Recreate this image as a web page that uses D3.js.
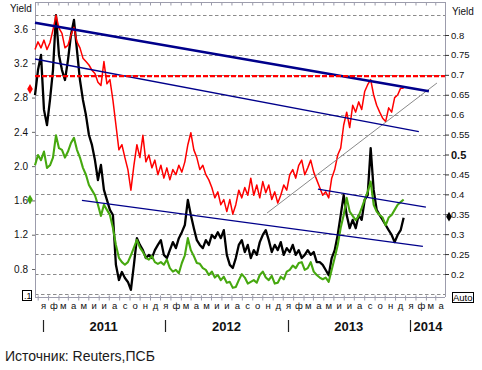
<!DOCTYPE html>
<html><head><meta charset="utf-8">
<script src="https://cdn.jsdelivr.net/npm/d3@7"></script>
<style>body{margin:0;background:#fff}svg{display:block}</style>
</head><body>
<svg id="c" width="482" height="370"></svg>
<script>
// ---- data ----
const seriesStart = new Date(2010, 11, 8);
const stepDays = 8.94;
const redLeft = [3.36,3.45,3.38,3.47,3.36,3.44,3.59,3.76,3.61,3.55,3.38,3.41,3.53,3.62,3.45,3.38,3.26,3.22,3.18,3.12,3.08,2.98,2.94,3.22,2.96,3.01,2.77,2.48,2.19,2.25,2.10,1.96,1.72,2.01,2.25,2.10,2.36,2.05,2.13,1.98,2.07,1.90,2.01,1.86,1.98,1.84,1.96,1.90,2.01,1.93,2.05,2.25,2.39,2.19,2.10,1.96,2.01,1.90,1.84,1.75,1.63,1.70,1.55,1.61,1.47,1.61,1.44,1.55,1.72,1.63,1.75,1.66,1.86,1.66,1.78,1.63,1.82,1.69,1.78,1.61,1.70,1.57,1.66,1.78,1.72,1.90,1.96,1.86,2.01,2.07,1.90,1.98,2.07,1.93,1.84,1.75,1.66,1.70,1.63,1.86,1.96,2.13,2.21,2.48,2.63,2.45,2.71,2.63,2.75,2.66,2.87,2.95,3.01,2.83,2.71,2.63,2.56,2.52,2.68,2.63,2.80,2.83,2.91,2.91];
const blackRight = [0.649,0.712,0.750,0.612,0.574,0.637,0.712,0.850,0.750,0.712,0.687,0.737,0.800,0.838,0.762,0.687,0.637,0.599,0.549,0.524,0.486,0.436,0.474,0.411,0.386,0.361,0.348,0.223,0.185,0.205,0.190,0.180,0.160,0.223,0.290,0.273,0.260,0.240,0.248,0.240,0.260,0.273,0.285,0.248,0.240,0.260,0.280,0.265,0.290,0.305,0.323,0.386,0.348,0.315,0.285,0.273,0.265,0.285,0.273,0.298,0.290,0.305,0.290,0.310,0.248,0.223,0.215,0.240,0.273,0.285,0.255,0.273,0.240,0.260,0.248,0.280,0.298,0.310,0.285,0.255,0.273,0.260,0.280,0.248,0.265,0.255,0.273,0.248,0.260,0.240,0.248,0.260,0.248,0.255,0.230,0.230,0.223,0.210,0.197,0.240,0.260,0.298,0.348,0.398,0.348,0.315,0.336,0.315,0.348,0.336,0.386,0.398,0.516,0.411,0.361,0.348,0.336,0.323,0.310,0.298,0.280,0.298,0.310,0.341];
const greenLeft = [2.01,2.13,2.07,2.17,1.98,2.01,2.10,2.36,2.21,2.19,2.10,2.17,2.27,2.33,2.19,2.10,1.98,1.90,1.78,1.72,1.66,1.55,1.42,1.55,1.49,1.43,1.28,1.08,0.93,0.88,0.85,0.88,0.96,1.05,1.14,1.05,1.00,0.93,0.91,0.95,0.88,0.86,0.88,0.85,0.91,0.81,0.77,0.79,0.75,0.87,0.96,1.16,1.02,0.95,0.87,0.86,0.81,0.79,0.73,0.77,0.70,0.73,0.67,0.71,0.64,0.65,0.58,0.59,0.67,0.74,0.70,0.63,0.65,0.67,0.64,0.73,0.77,0.70,0.67,0.72,0.63,0.64,0.71,0.68,0.77,0.79,0.84,0.81,0.87,0.88,0.79,0.81,0.88,0.77,0.73,0.70,0.68,0.70,0.65,0.79,0.93,1.08,1.28,1.43,1.63,1.47,1.42,1.37,1.42,1.51,1.61,1.70,1.82,1.55,1.47,1.43,1.40,1.31,1.40,1.43,1.49,1.55,1.58,1.61];
const leftTicks = [3.6,3.2,2.8,2.4,2.0,1.6,1.2,0.8];
const rightTicks = [0.8,0.75,0.7,0.65,0.6,0.55,0.5,0.45,0.4,0.35,0.3,0.25,0.2];
const gridValues = [0.85,0.8,0.75,0.7,0.65,0.6,0.55,0.5,0.45,0.4,0.35,0.3,0.25,0.2,0.15];
const monthLetters = ["я","ф","м","а","м","и","и","а","с","о","н","д"];
const yearLabels = [2011,2012,2013,2014];
const redLevel = 3.05;
const lastRed = 2.90, lastGreen = 1.61, lastBlack = 0.344;
// trend lines [startDate, startValue, endDate, endValue] on left axis
const trendThick = [[new Date(2010,11,8),3.674,new Date(2014,1,25),2.873]];
const trendThin = [
  [new Date(2010,11,8),3.250,new Date(2014,0,26),2.404],
  [new Date(2011,3,27),1.601,new Date(2014,1,7),1.065],
  [new Date(2013,2,31),1.733,new Date(2014,1,16),1.523]
];
const trendGray = [[new Date(2012,9,30),1.453,new Date(2014,2,21),2.970]];

// ---- scales ----
const svg = d3.select("#c");
const L = 35, R = 445, T = 2, B = 297;
const x = d3.scaleTime().domain([new Date(2010,11,8), new Date(2014,3,14)]).range([L, R]);
const yL = d3.scaleLinear().domain([0.8, 3.6]).range([269, 29]);
const yR = d3.scaleLinear().domain([0.2, 0.8]).range([274, 35]);
const dateAt = i => new Date(seriesStart.getTime() + i * stepDays * 864e5);
const font = "'Liberation Sans', Arial, sans-serif";

// grid
svg.append("g").selectAll("line").data(gridValues).join("line")
  .attr("x1", L).attr("x2", R).attr("y1", d => Math.round(yR(d)) + 0.5).attr("y2", d => Math.round(yR(d)) + 0.5)
  .attr("stroke", "#8c8c8c").attr("stroke-dasharray", "3.5,2.5");

// frame
const frame = svg.append("g").attr("stroke", "#9c9cac").attr("fill", "none");
frame.append("line").attr("x1", L + 0.5).attr("x2", L + 0.5).attr("y1", T).attr("y2", B);
frame.append("line").attr("x1", R + 0.5).attr("x2", R + 0.5).attr("y1", T).attr("y2", B);
frame.append("line").attr("x1", L).attr("x2", R).attr("y1", T + 0.5).attr("y2", T + 0.5);
frame.append("line").attr("x1", L).attr("x2", R).attr("y1", B + 0.5).attr("y2", B + 0.5);

// month ticks (mid-month) top & bottom
const tickDates = d3.timeMonth.range(new Date(2010,11,1), new Date(2014,4,1)).map(d => d3.timeDay.offset(d, 15)).filter(d => x(d) > L + 1 && x(d) < R - 1);
const topAxis = svg.append("g").attr("transform", `translate(0,${T + 0.5})`)
  .call(d3.axisBottom(x).tickValues(tickDates).tickSize(3).tickFormat(""));
topAxis.select(".domain").remove();
topAxis.selectAll("line").attr("stroke", "#9c9cac");
const botAxis = svg.append("g").attr("transform", `translate(0,${B - 1.5})`)
  .call(d3.axisBottom(x).tickValues(tickDates).tickSize(5).tickFormat(""));
botAxis.select(".domain").remove();
botAxis.selectAll("line").attr("stroke", "#9c9cac");

// month letters
const monthStarts = d3.timeMonth.range(new Date(2011,0,1), new Date(2014,4,1));
const mAxis = svg.append("g").attr("transform", `translate(0,${B + 2})`)
  .call(d3.axisBottom(x).tickValues(monthStarts).tickSize(0).tickPadding(3).tickFormat(d => monthLetters[d.getMonth()]));
mAxis.select(".domain").remove();
mAxis.selectAll("text").attr("font-family", font).attr("font-size", 9.5).attr("fill", "#111");

// years
const yearG = svg.append("g");
yearLabels.forEach(yr => {
  const x0 = Math.round(x(new Date(yr,0,1))) + 0.5;
  yearG.append("line").attr("x1", x0).attr("x2", x0).attr("y1", 320).attr("y2", 332).attr("stroke", "#222").attr("stroke-width", 1.2);
  const isLast = yr === 2014;
  yearG.append("text").attr("x", isLast ? x0 + 3 : x(new Date(yr,6,1)))
    .attr("y", 331).attr("text-anchor", isLast ? "start" : "middle")
    .attr("font-family", "'Liberation Sans Narrow', 'Liberation Sans', Arial, sans-serif").attr("font-weight", "bold").attr("font-size", 13).attr("fill", "#111")
    .text(yr);
});

// left axis
const la = svg.append("g").attr("transform", `translate(${L},0)`)
  .call(d3.axisLeft(yL).tickValues(leftTicks).tickSize(3).tickPadding(4).tickFormat(d3.format(".1f")));
la.select(".domain").remove();
la.selectAll("line").attr("stroke", "#666");
la.selectAll("text").attr("font-family", font).attr("font-size", 10).attr("fill", "#111");
svg.append("text").attr("x", 10).attr("y", 12).attr("font-family", font).attr("font-size", 10).attr("fill", "#111").text("Yield");

// right axis
const ra = svg.append("g").attr("transform", `translate(${R},0)`)
  .call(d3.axisRight(yR).tickValues(rightTicks).tickSize(4).tickPadding(2).tickFormat(d3.format("")));
ra.select(".domain").remove();
ra.selectAll("line").attr("stroke", "#333");
ra.selectAll("text").attr("font-family", font).attr("font-size", 9.5).attr("fill", "#111")
  .filter(d => d === 0.5).attr("font-weight", "bold").attr("font-size", 11);
svg.append("text").attr("x", 452).attr("y", 15).attr("font-family", font).attr("font-size", 10).attr("fill", "#111").text("Yield");

// series
const lineL = d3.line().x((d, i) => x(dateAt(i))).y(d => yL(d));
const lineR = d3.line().x((d, i) => x(dateAt(i))).y(d => yR(d));
svg.append("path").datum(blackRight).attr("d", lineR).attr("fill", "none").attr("stroke", "#000").attr("stroke-width", 2.3).attr("stroke-linejoin", "round");
svg.append("path").datum(greenLeft).attr("d", lineL).attr("fill", "none").attr("stroke", "#46a80f").attr("stroke-width", 2.1).attr("stroke-linejoin", "round");
svg.append("path").datum(redLeft).attr("d", lineL).attr("fill", "none").attr("stroke", "#ff0000").attr("stroke-width", 1.5).attr("stroke-linejoin", "round");

// trend lines
const seg = (arr, color, w) => svg.append("g").selectAll("line").data(arr).join("line")
  .attr("x1", d => x(d[0])).attr("y1", d => yL(d[1])).attr("x2", d => x(d[2])).attr("y2", d => yL(d[3]))
  .attr("stroke", color).attr("stroke-width", w);
seg(trendGray, "#8a8a8a", 1);
seg(trendThin, "#00008b", 1.3);
seg(trendThick, "#00008b", 2.6);

// red dashed level
svg.append("line").attr("x1", L).attr("x2", R).attr("y1", yL(redLevel)).attr("y2", yL(redLevel))
  .attr("stroke", "#ff0000").attr("stroke-width", 2.4).attr("stroke-dasharray", "5,2");

// last value markers
const diamond = d3.symbol().type(d3.symbolDiamond).size(28);
svg.append("path").attr("d", diamond).attr("transform", `translate(30,${yL(lastRed)})`).attr("fill", "#ff0000");
svg.append("path").attr("d", diamond).attr("transform", `translate(30,${yL(lastGreen)})`).attr("fill", "#46a80f");
svg.append("path").attr("d", diamond).attr("transform", `translate(449,${yR(lastBlack)})`).attr("fill", "#000");

// small boxes
svg.append("rect").attr("x", 22.5).attr("y", 290.5).attr("width", 9).attr("height", 10).attr("fill", "#fff").attr("stroke", "#000");
svg.append("text").attr("x", 24).attr("y", 299).attr("font-family", font).attr("font-size", 9).attr("fill", "#000").text(".1");
svg.append("rect").attr("x", 452.5).attr("y", 292.5).attr("width", 21).attr("height", 10).attr("fill", "#fff").attr("stroke", "#000");
svg.append("text").attr("x", 453).attr("y", 301).attr("font-family", font).attr("font-size", 9.5).attr("fill", "#000").text("Auto");

// footer
svg.append("text").attr("x", 5).attr("y", 361).attr("font-family", font).attr("font-size", 14).attr("fill", "#1a1a1a").text("Источник: Reuters,ПСБ");
</script>
</body></html>
